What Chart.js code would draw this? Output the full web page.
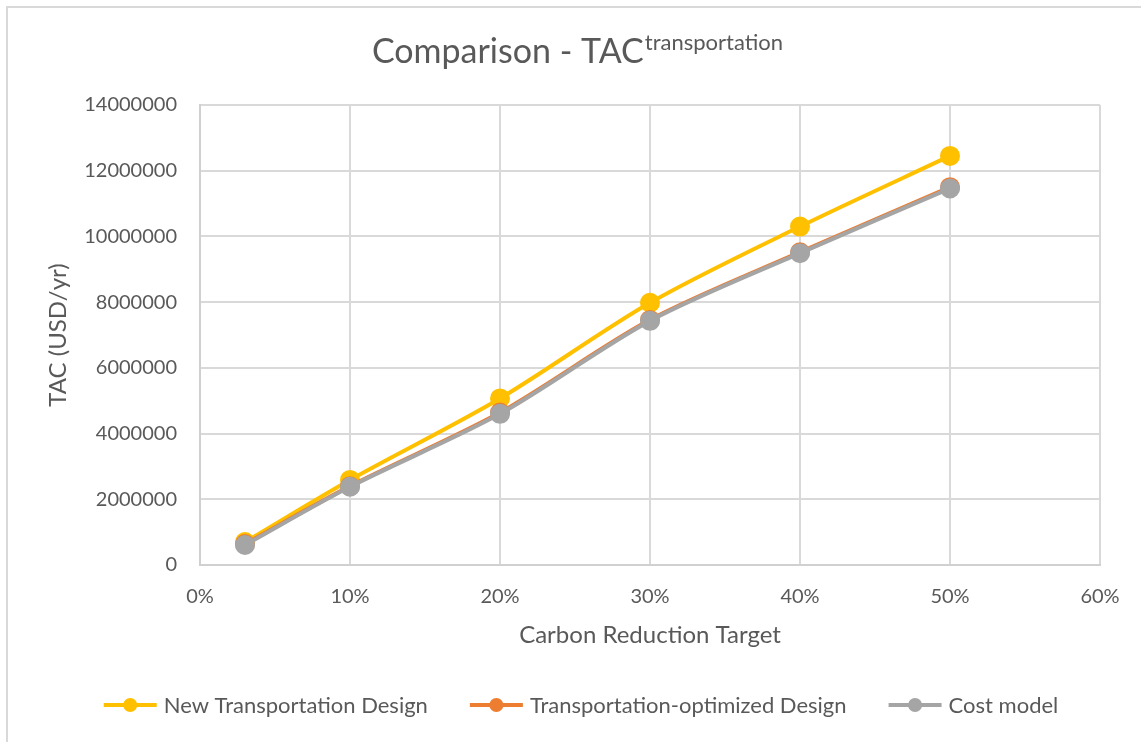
<!DOCTYPE html>
<html>
<head>
<meta charset="utf-8">
<script src="https://cdn.jsdelivr.net/npm/chart.js@4.4.1/dist/chart.umd.min.js"></script>
<style>
  html, body { margin: 0; padding: 0; background: #ffffff; }
  #wrap { width: 1141px; height: 742px; position: relative; }
</style>
</head>
<body>
<div id="wrap"><canvas id="c" width="1141" height="742"></canvas></div>
<script>
// Carbon reduction targets (fraction) and total annual transportation cost (USD/yr)
const targets = [0.03, 0.10, 0.20, 0.30, 0.40, 0.50];
const newTransportDesign = [700000, 2590000, 5070000, 7980000, 10300000, 12450000];
const transportOptimized = [640000, 2400000, 4640000, 7460000, 9520000, 11500000];
const costModel = [610000, 2380000, 4600000, 7430000, 9490000, 11460000];

const seriesNames = ['New Transportation Design', 'Transportation-optimized Design', 'Cost model'];
const seriesColors = ['#FFC000', '#ED7D31', '#A5A5A5'];

const titleMain = 'Comparison - TAC';
const titleSup = 'transportation';
const xTitle = 'Carbon Reduction Target';
const yTitle = 'TAC (USD/yr)';

const FONT = 'Lato, "Open Sans", sans-serif';
const TEXT = '#595959';

function toPoints(vals) {
  return vals.map((v, i) => ({ x: targets[i], y: v }));
}

function makeSet(idx, vals, order) {
  return {
    label: seriesNames[idx],
    data: toPoints(vals),
    borderColor: seriesColors[idx],
    backgroundColor: seriesColors[idx],
    pointBackgroundColor: seriesColors[idx],
    pointBorderColor: seriesColors[idx],
    pointRadius: 8,
    pointHoverRadius: 8,
    borderWidth: 4,
    tension: 0.3,
    order: order
  };
}

// Frame, title with superscript, axis titles and bottom legend
const decorations = {
  id: 'decorations',
  beforeDraw(chart) {
    const ctx = chart.ctx;
    ctx.save();
    ctx.fillStyle = '#ffffff';
    ctx.fillRect(0, 0, chart.width, chart.height);
    ctx.strokeStyle = '#d9d9d9';
    ctx.lineWidth = 2;
    ctx.beginPath();
    ctx.moveTo(7, chart.height + 2);
    ctx.lineTo(7, 7);
    ctx.lineTo(chart.width + 2, 7);
    ctx.stroke();
    ctx.restore();
  },
  afterDraw(chart) {
    const ctx = chart.ctx;
    const area = chart.chartArea;
    ctx.save();
    ctx.fillStyle = TEXT;
    ctx.textBaseline = 'alphabetic';
    ctx.textAlign = 'left';

    // title
    const mainFont = '34px ' + FONT;
    const supFont = '22px ' + FONT;
    ctx.font = mainFont;
    const wMain = ctx.measureText(titleMain).width;
    ctx.font = supFont;
    const wSup = ctx.measureText(titleSup).width;
    const startX = 577 - (wMain + wSup) / 2;
    ctx.font = mainFont;
    ctx.fillText(titleMain, startX, 63);
    ctx.font = supFont;
    ctx.fillText(titleSup, startX + wMain + 1, 50);

    // axis titles
    ctx.font = '24px ' + FONT;
    ctx.textAlign = 'center';
    ctx.textBaseline = 'middle';
    ctx.fillText(xTitle, (area.left + area.right) / 2, 635);
    ctx.save();
    ctx.translate(58, (area.top + area.bottom) / 2);
    ctx.rotate(-Math.PI / 2);
    ctx.fillText(yTitle, 0, 0);
    ctx.restore();

    // legend
    ctx.textAlign = 'left';
    ctx.font = '22px ' + FONT;
    const lineLen = 53, gapText = 7, gapItems = 42;
    const widths = seriesNames.map(n => lineLen + gapText + ctx.measureText(n).width);
    const total = widths.reduce((a, b) => a + b, 0) + gapItems * (widths.length - 1);
    let x = 581 - total / 2;
    const y = 705;
    seriesNames.forEach((name, i) => {
      ctx.strokeStyle = seriesColors[i];
      ctx.fillStyle = seriesColors[i];
      ctx.lineWidth = 4;
      ctx.beginPath();
      ctx.moveTo(x, y);
      ctx.lineTo(x + lineLen, y);
      ctx.stroke();
      ctx.beginPath();
      ctx.arc(x + lineLen / 2, y, 7, 0, Math.PI * 2);
      ctx.fill();
      ctx.fillStyle = TEXT;
      ctx.fillText(name, x + lineLen + gapText, y + 1);
      x += widths[i] + gapItems;
    });
    ctx.restore();
  }
};

new Chart(document.getElementById('c'), {
  type: 'line',
  data: {
    datasets: [
      makeSet(0, newTransportDesign, 3),
      makeSet(1, transportOptimized, 2),
      makeSet(2, costModel, 1)
    ]
  },
  options: {
    responsive: false,
    animation: false,
    events: [],
    layout: { padding: { top: 105, right: 41, left: 0, bottom: 0 } },
    plugins: {
      legend: { display: false },
      title: { display: false },
      tooltip: { enabled: false }
    },
    scales: {
      x: {
        type: 'linear',
        min: 0,
        max: 0.6,
        afterFit(scale) { scale.height = 177; },
        ticks: {
          stepSize: 0.1,
          padding: 20,
          color: TEXT,
          font: { family: FONT, size: 20 },
          callback: v => Math.round(v * 100) + '%'
        },
        grid: { color: '#d9d9d9', lineWidth: 2, drawTicks: false },
        border: { color: '#d0d0d0', width: 2 }
      },
      y: {
        min: 0,
        max: 14000000,
        afterFit(scale) { scale.width = 200; },
        ticks: {
          stepSize: 2000000,
          padding: 23,
          color: TEXT,
          font: { family: FONT, size: 20 },
          callback: v => String(v)
        },
        grid: { color: '#d9d9d9', lineWidth: 2, drawTicks: false },
        border: { color: '#d0d0d0', width: 2 }
      }
    }
  },
  plugins: [decorations]
});
</script>
</body>
</html>
